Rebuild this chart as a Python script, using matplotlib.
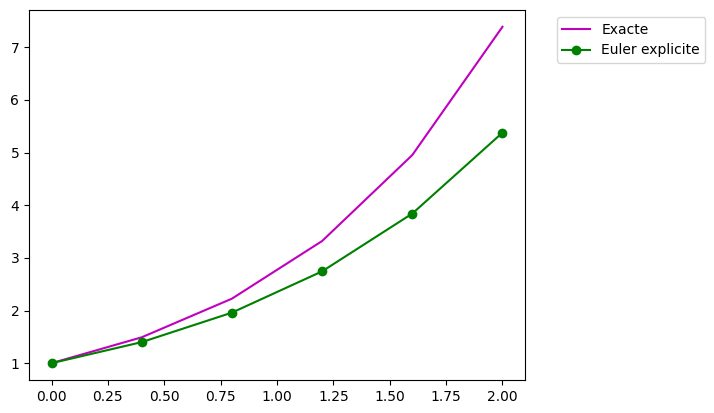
import numpy as np
import matplotlib
matplotlib.use("Agg")
import matplotlib.pyplot as plt

# time steps (h = 0.4)
t = [0.0, 0.4, 0.8, 1.2, 1.6, 2.0]
exacte = [1.0, 1.4918, 2.2255, 3.3201, 4.9530, 7.3891]
euler = [1.0, 1.4, 1.96, 2.744, 3.8416, 5.3782]

fig = plt.figure(figsize=(7.14, 4.13), dpi=100)
ax = fig.add_axes([29 / 714, 33 / 413, 496 / 714, 370 / 413])

ax.plot(t, exacte, color='m', label="Exacte")
ax.plot(t, euler, 'o-', color='green', label="Euler explicite")
ax.legend(bbox_to_anchor=(1.05, 1), loc="upper left")

fig.savefig("out.png", dpi=100)
